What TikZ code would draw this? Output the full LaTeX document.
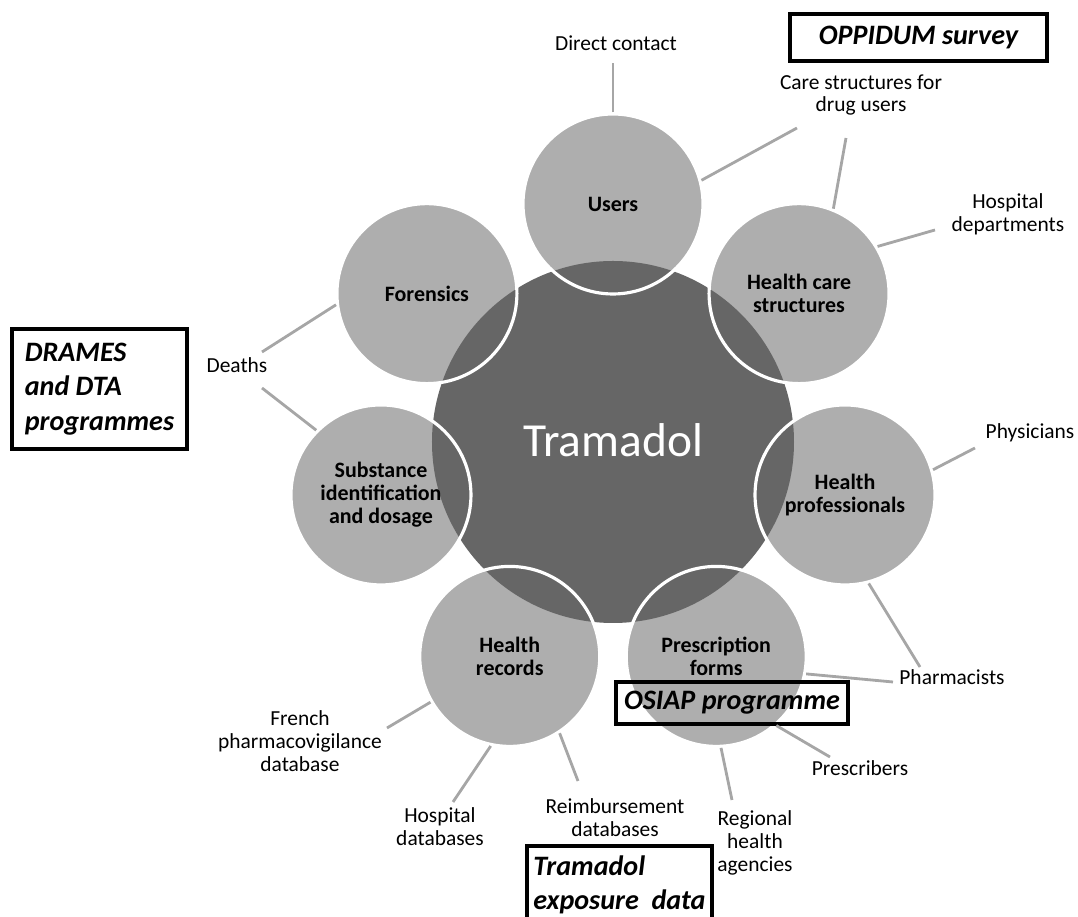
\documentclass[tikz,border=0pt]{standalone}
\usepackage{fontspec}
\setmainfont{Carlito}
\usepackage{tikz}
\usetikzlibrary{positioning,calc}
\definecolor{CoreGray}{HTML}{666666}
\definecolor{SatGray}{HTML}{AEAEAE}
\definecolor{LinkGray}{HTML}{A6A6A6}
\pgfdeclarelayer{background}
\pgfsetlayers{background,main}

\begin{document}
\begin{tikzpicture}[x=1cm,y=1cm,
  satnode/.style={circle,draw=white,line width=1.8pt,minimum size=3.6cm,inner sep=0pt,align=center,font=\fontsize{12.5}{13.2}\selectfont\bfseries},
  corenode/.style={circle,minimum size=7.24cm,inner sep=0pt,text=white,font=\fontsize{27}{31}\selectfont},
  lbl/.style={align=center,inner sep=0pt,font=\fontsize{12.2}{13}\selectfont},
  linkline/.style={LinkGray,line width=1.6pt},
  tagbox/.style={draw=black,line width=1.8pt,inner sep=0pt,font=\fontsize{16}{19.5}\selectfont\bfseries\itshape}]
  \useasboundingbox (-12.26,-9.50) rectangle (9.30,8.84);

  % centre and the seven sources
  \node[corenode] (core) at (0,0.04) {Tramadol};
  \node[satnode] (users) at (90:4.76) {Users};
  \node[satnode] (hcs) at (38.57:4.76) {Health care\\structures};
  \node[satnode] (hp) at (-12.86:4.76) {Health\\professionals};
  \node[satnode] (pf) at (-64.29:4.76) {Prescription\\forms};
  \node[satnode] (hr) at (-115.71:4.76) {Health\\records};
  \node[satnode] (sid) at (-167.14:4.76) {Substance\\identification\\and dosage};
  \node[satnode] (foren) at (141.43:4.76) {Forensics};

  \begin{pgfonlayer}{background}
    \fill[SatGray] (users.center) circle (1.8);
    \fill[SatGray] (hcs.center) circle (1.8);
    \fill[SatGray] (hp.center) circle (1.8);
    \fill[SatGray] (pf.center) circle (1.8);
    \fill[SatGray] (hr.center) circle (1.8);
    \fill[SatGray] (sid.center) circle (1.8);
    \fill[SatGray] (foren.center) circle (1.8);
    \fill[CoreGray] (0,0) circle (3.62);
  \end{pgfonlayer}

  % outer labels
  \node[lbl] (direct) at (0.06,7.98) {Direct contact};
  \node[lbl] (carestr) at (4.96,6.94) {Care structures for\\drug users};
  \node[lbl] (hospdep) at (7.90,4.56) {Hospital\\departments};
  \node[lbl] (phys) at (8.34,0.18) {Physicians};
  \node[lbl] (pharm) at (6.78,-4.70) {Pharmacists};
  \node[lbl] (prescr) at (4.94,-6.52) {Prescribers};
  \node[lbl] (region) at (2.84,-8.02) {Regional\\health\\agencies};
  \node[lbl] (reimb) at (0.04,-7.52) {Reimbursement\\databases};
  \node[lbl] (hospdb) at (-3.46,-7.70) {Hospital\\databases};
  \node[lbl] (french) at (-6.26,-5.98) {French\\pharmacovigilance\\database};
  \node[lbl] (deaths) at (-7.52,1.54) {Deaths};

  % programme boxes
  \node[tagbox,minimum width=5.14cm,minimum height=0.94cm] (oppidum) at (6.11,8.09) {OPPIDUM survey};
  \node[tagbox,minimum width=3.5cm,minimum height=2.4cm,align=left] (drames) at (-10.27,1.06) {DRAMES\\and DTA\\programmes};
  \node[tagbox,minimum width=4.64cm,minimum height=0.84cm] (osiap) at (2.38,-5.22) {OSIAP programme};
  \node[tagbox,minimum width=3.7cm,minimum height=1.56cm,align=left] (expo) at (0.13,-8.86) {Tramadol\\exposure~~data};

  % connector ends near the labels
  \coordinate (cDirect) at (0,7.58);
  \coordinate (cCareA) at (3.68,6.28);
  \coordinate (cCareB) at (4.66,6.08);
  \coordinate (cHospDep) at (6.44,4.24);
  \coordinate (cPhys) at (7.24,-0.12);
  \coordinate (cPharmA) at (6.14,-4.50);
  \coordinate (cPharmB) at (5.60,-4.80);
  \coordinate (cPrescr) at (4.34,-6.30);
  \coordinate (cRegion) at (2.38,-7.16);
  \coordinate (cReimb) at (-0.70,-6.78);
  \coordinate (cHospDb) at (-3.20,-7.20);
  \coordinate (cFrench) at (-4.52,-5.72);
  \coordinate (cDeathsA) at (-7.02,1.08);
  \coordinate (cDeathsB) at (-7.02,1.80);

  \draw[linkline] (users.90) -- (cDirect);
  \draw[linkline] (users.15) -- (cCareA);
  \draw[linkline] (hcs.68) -- (cCareB);
  \draw[linkline] (hcs.31) -- (cHospDep);
  \draw[linkline] (hp.16) -- (cPhys);
  \draw[linkline] (hp.285.5) -- (cPharmA);
  \draw[linkline] (pf.349.6) -- (cPharmB);
  \draw[linkline] (pf.311.7) -- (cPrescr);
  \draw[linkline] (pf.273.5) -- (cRegion);
  \draw[linkline] (hr.303.3) -- (cReimb);
  \draw[linkline] (hr.258) -- (cHospDb);
  \draw[linkline] (hr.210.3) -- (cFrench);
  \draw[linkline] (sid.135.5) -- (cDeathsA);
  \draw[linkline] (foren.187.2) -- (cDeathsB);
\end{tikzpicture}
\end{document}
